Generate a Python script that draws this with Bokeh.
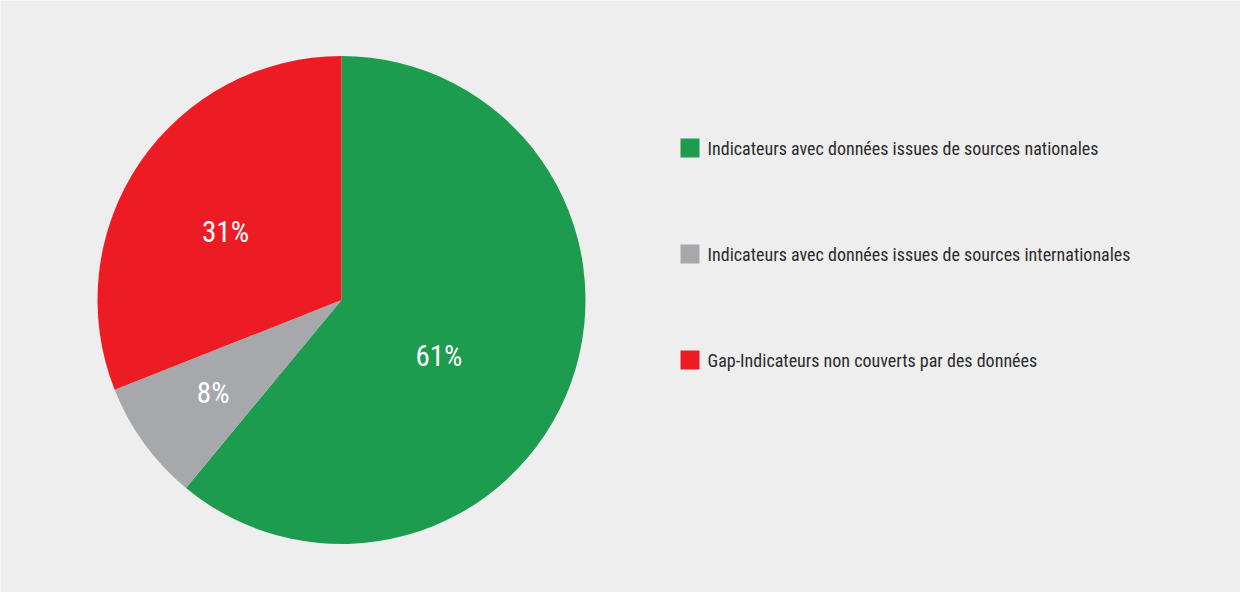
import math
from bokeh.plotting import figure
from bokeh.models import Range1d, ColumnDataSource
from bokeh.core.properties import value
from bokeh.embed import file_html
from bokeh.resources import INLINE

categories = [
    "Indicateurs avec données issues de sources nationales",
    "Indicateurs avec données issues de sources internationales",
    "Gap-Indicateurs non couverts par des données",
]
shares = [61, 8, 31]
pct_labels = ["61%", "8%", "31%"]
colors = ["#1d9c4f", "#a7a8ac", "#ed1c24"]

FONT = "'Roboto Condensed', 'DejaVu Sans Condensed', 'Liberation Sans Narrow', 'Arial Narrow', sans-serif"
W, H = 1240, 592
p = figure(width=W, height=H, output_backend="svg", toolbar_location=None,
           x_range=Range1d(0, W), y_range=Range1d(0, H), min_border=0)
p.axis.visible = False
p.grid.visible = False
p.outline_line_color = None
p.background_fill_color = "#eeeeee"
p.border_fill_color = "#eeeeee"

cx, cy, R = 341, 292.5, 244
total = sum(shares)
starts, ends, lx, ly = [], [], [], []
cum = 0
label_frac = [0.46, 0.65, 0.55]
label_shift = [10, 0, -4]
for i, s in enumerate(shares):
    a0 = math.pi / 2 - 2 * math.pi * cum / total
    a1 = math.pi / 2 - 2 * math.pi * (cum + s) / total
    starts.append(a0)
    ends.append(a1)
    mid = (cum + s / 2) / total * 360 + label_shift[i]
    lx.append(cx + R * label_frac[i] * math.sin(math.radians(mid)))
    ly.append(cy + R * label_frac[i] * math.cos(math.radians(mid)))
    cum += s

src = ColumnDataSource(dict(start=starts, end=ends, color=colors,
                            lx=lx, ly=ly, lab=pct_labels))
p.wedge(x=cx, y=cy, radius=R, radius_units="screen", start_angle="start",
        end_angle="end", direction="clock", fill_color="color",
        line_color=None, source=src)
p.text(x="lx", y="ly", text="lab", source=src, text_color="#ffffff",
       text_font=value(FONT), text_font_size="29px", text_align="center",
       text_baseline="middle")

# legend
leg_x, leg_y0, leg_dy = 689.5, 444.5, 106
ys = [leg_y0 - i * leg_dy for i in range(len(categories))]
lsrc = ColumnDataSource(dict(x=[leg_x] * 3, y=ys, color=colors, lab=categories,
                             tx=[leg_x + 17.5] * 3))
p.rect(x="x", y="y", width=19, height=19, width_units="screen",
       height_units="screen", fill_color="color", line_color=None, source=lsrc)
p.text(x="tx", y="y", text="lab", source=lsrc, text_color="#2b2b2b",
       text_font=value(FONT), text_font_size="18px", text_align="left",
       text_baseline="middle")

open("out.html", "w").write(file_html(p, INLINE))
